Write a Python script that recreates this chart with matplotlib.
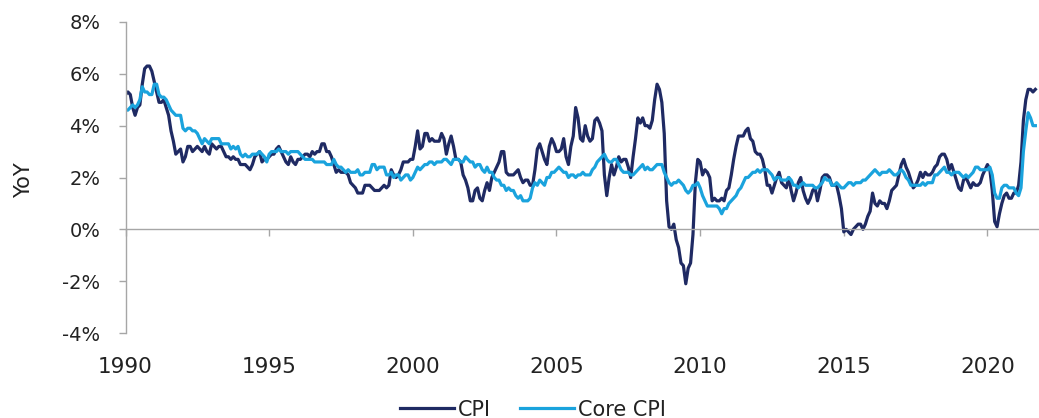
import matplotlib
matplotlib.use("Agg")
import matplotlib.pyplot as plt
import numpy as np

start_year = 1990
cpi = [
    # 1990
    5.2, 5.3, 5.2, 4.7, 4.4, 4.7, 4.8, 5.6, 6.2, 6.3, 6.3, 6.1,
    # 1991
    5.7, 5.3, 4.9, 4.9, 5.0, 4.7, 4.4, 3.8, 3.4, 2.9, 3.0, 3.1,
    # 1992
    2.6, 2.8, 3.2, 3.2, 3.0, 3.1, 3.2, 3.1, 3.0, 3.2, 3.0, 2.9,
    # 1993
    3.3, 3.2, 3.1, 3.2, 3.2, 3.0, 2.8, 2.8, 2.7, 2.8, 2.7, 2.7,
    # 1994
    2.5, 2.5, 2.5, 2.4, 2.3, 2.5, 2.8, 2.9, 3.0, 2.6, 2.7, 2.7,
    # 1995
    2.8, 2.9, 2.9, 3.1, 3.2, 3.0, 2.8, 2.6, 2.5, 2.8, 2.6, 2.5,
    # 1996
    2.7, 2.7, 2.8, 2.9, 2.9, 2.8, 3.0, 2.9, 3.0, 3.0, 3.3, 3.3,
    # 1997
    3.0, 3.0, 2.8, 2.5, 2.2, 2.3, 2.2, 2.2, 2.2, 2.1, 1.8, 1.7,
    # 1998
    1.6, 1.4, 1.4, 1.4, 1.7, 1.7, 1.7, 1.6, 1.5, 1.5, 1.5, 1.6,
    # 1999
    1.7, 1.6, 1.7, 2.3, 2.1, 2.0, 2.1, 2.3, 2.6, 2.6, 2.6, 2.7,
    # 2000
    2.7, 3.2, 3.8, 3.1, 3.2, 3.7, 3.7, 3.4, 3.5, 3.4, 3.4, 3.4,
    # 2001
    3.7, 3.5, 2.9, 3.3, 3.6, 3.2, 2.7, 2.7, 2.6, 2.1, 1.9, 1.6,
    # 2002
    1.1, 1.1, 1.5, 1.6, 1.2, 1.1, 1.5, 1.8, 1.5, 2.0, 2.2, 2.4,
    # 2003
    2.6, 3.0, 3.0, 2.2, 2.1, 2.1, 2.1, 2.2, 2.3, 2.0, 1.8, 1.9,
    # 2004
    1.9, 1.7, 1.7, 2.3, 3.1, 3.3, 3.0, 2.7, 2.5, 3.2, 3.5, 3.3,
    # 2005
    3.0, 3.0, 3.1, 3.5, 2.8, 2.5, 3.2, 3.6, 4.7, 4.3, 3.5, 3.4,
    # 2006
    4.0, 3.6, 3.4, 3.5, 4.2, 4.3, 4.1, 3.8, 2.1, 1.3, 2.0, 2.5,
    # 2007
    2.1, 2.4, 2.8, 2.6, 2.7, 2.7, 2.4, 2.0, 2.8, 3.5, 4.3, 4.1,
    # 2008
    4.3, 4.0, 4.0, 3.9, 4.2, 5.0, 5.6, 5.4, 4.9, 3.7, 1.1, 0.1,
    # 2009
    0.0, 0.2, -0.4, -0.7, -1.3, -1.4, -2.1, -1.5, -1.3, -0.2, 1.8, 2.7,
    # 2010
    2.6, 2.1, 2.3, 2.2, 2.0, 1.1, 1.2, 1.1, 1.1, 1.2, 1.1, 1.5,
    # 2011
    1.6, 2.1, 2.7, 3.2, 3.6, 3.6, 3.6, 3.8, 3.9, 3.5, 3.4, 3.0,
    # 2012
    2.9, 2.9, 2.7, 2.3, 1.7, 1.7, 1.4, 1.7, 2.0, 2.2, 1.8, 1.7,
    # 2013
    1.6, 2.0, 1.5, 1.1, 1.4, 1.8, 2.0, 1.5, 1.2, 1.0, 1.2, 1.5,
    # 2014
    1.6, 1.1, 1.5, 2.0, 2.1, 2.1, 2.0, 1.7, 1.7, 1.7, 1.3, 0.8,
    # 2015
    -0.1, 0.0, -0.1, -0.2, 0.0, 0.1, 0.2, 0.2, 0.0, 0.2, 0.5, 0.7,
    # 2016
    1.4, 1.0, 0.9, 1.1, 1.0, 1.0, 0.8, 1.1, 1.5, 1.6, 1.7, 2.1,
    # 2017
    2.5, 2.7, 2.4, 2.2, 1.9, 1.6, 1.7, 1.9, 2.2, 2.0, 2.2, 2.1,
    # 2018
    2.1, 2.2, 2.4, 2.5, 2.8, 2.9, 2.9, 2.7, 2.3, 2.5, 2.2, 1.9,
    # 2019
    1.6, 1.5, 1.9, 2.0, 1.8, 1.6, 1.8, 1.7, 1.7, 1.8, 2.1, 2.3,
    # 2020
    2.5, 2.3, 1.5, 0.3, 0.1, 0.6, 1.0, 1.3, 1.4, 1.2, 1.2, 1.4,
    # 2021
    1.4, 1.7, 2.6, 4.2, 5.0, 5.4, 5.4, 5.3, 5.4,
]

core_cpi = [
    # 1990
    4.6, 4.6, 4.7, 4.8, 4.7, 4.8, 5.0, 5.5, 5.3, 5.3, 5.2, 5.2,
    # 1991
    5.6, 5.6, 5.2, 5.1, 5.1, 5.0, 4.8, 4.6, 4.5, 4.4, 4.4, 4.4,
    # 1992
    3.9, 3.8, 3.9, 3.9, 3.8, 3.8, 3.7, 3.5, 3.3, 3.5, 3.4, 3.3,
    # 1993
    3.5, 3.5, 3.5, 3.5, 3.3, 3.3, 3.3, 3.3, 3.1, 3.2, 3.1, 3.2,
    # 1994
    2.9, 2.8, 2.9, 2.8, 2.8, 2.9, 2.9, 2.9, 3.0, 2.9, 2.8, 2.6,
    # 1995
    2.9, 3.0, 3.0, 3.0, 3.1, 3.0, 3.0, 3.0, 2.9, 3.0, 3.0, 3.0,
    # 1996
    3.0, 2.9, 2.8, 2.7, 2.7, 2.7, 2.7, 2.6, 2.6, 2.6, 2.6, 2.6,
    # 1997
    2.5, 2.5, 2.5, 2.7, 2.5, 2.4, 2.4, 2.3, 2.2, 2.3, 2.2, 2.2,
    # 1998
    2.2, 2.3, 2.1, 2.1, 2.2, 2.2, 2.2, 2.5, 2.5, 2.3, 2.4, 2.4,
    # 1999
    2.4, 2.1, 2.1, 2.2, 2.0, 2.1, 2.1, 1.9, 2.0, 2.1, 2.1, 1.9,
    # 2000
    2.0, 2.2, 2.4, 2.3, 2.4, 2.5, 2.5, 2.6, 2.6, 2.5, 2.6, 2.6,
    # 2001
    2.6, 2.7, 2.7, 2.6, 2.5, 2.7, 2.7, 2.7, 2.6, 2.6, 2.8, 2.7,
    # 2002
    2.6, 2.6, 2.4, 2.5, 2.5, 2.3, 2.2, 2.4, 2.2, 2.2, 2.0, 1.9,
    # 2003
    1.9, 1.7, 1.7, 1.5, 1.6, 1.5, 1.5, 1.3, 1.2, 1.3, 1.1, 1.1,
    # 2004
    1.1, 1.2, 1.6, 1.8, 1.7, 1.9, 1.8, 1.7, 2.0, 2.0, 2.2, 2.2,
    # 2005
    2.3, 2.4, 2.3, 2.2, 2.2, 2.0, 2.1, 2.1, 2.0, 2.1, 2.1, 2.2,
    # 2006
    2.1, 2.1, 2.1, 2.3, 2.4, 2.6, 2.7, 2.8, 2.9, 2.7, 2.6, 2.6,
    # 2007
    2.7, 2.7, 2.5, 2.3, 2.2, 2.2, 2.2, 2.1, 2.1, 2.2, 2.3, 2.4,
    # 2008
    2.5, 2.3, 2.4, 2.3, 2.3, 2.4, 2.5, 2.5, 2.5, 2.2, 2.0, 1.8,
    # 2009
    1.7, 1.8, 1.8, 1.9, 1.8, 1.7, 1.5, 1.4, 1.5, 1.7, 1.7, 1.8,
    # 2010
    1.6, 1.3, 1.1, 0.9, 0.9, 0.9, 0.9, 0.9, 0.8, 0.6, 0.8, 0.8,
    # 2011
    1.0, 1.1, 1.2, 1.3, 1.5, 1.6, 1.8, 2.0, 2.0, 2.1, 2.2, 2.2,
    # 2012
    2.3, 2.2, 2.3, 2.3, 2.3, 2.2, 2.1, 1.9, 2.0, 2.0, 1.9, 1.9,
    # 2013
    1.9, 2.0, 1.9, 1.7, 1.7, 1.6, 1.7, 1.8, 1.7, 1.7, 1.7, 1.7,
    # 2014
    1.6, 1.6, 1.7, 1.8, 2.0, 1.9, 1.9, 1.7, 1.7, 1.8, 1.7, 1.6,
    # 2015
    1.6, 1.7, 1.8, 1.8, 1.7, 1.8, 1.8, 1.8, 1.9, 1.9, 2.0, 2.1,
    # 2016
    2.2, 2.3, 2.2, 2.1, 2.2, 2.2, 2.2, 2.3, 2.2, 2.1, 2.1, 2.2,
    # 2017
    2.3, 2.2, 2.0, 1.9, 1.7, 1.7, 1.7, 1.7, 1.7, 1.8, 1.7, 1.8,
    # 2018
    1.8, 1.8, 2.1, 2.1, 2.2, 2.3, 2.4, 2.2, 2.2, 2.1, 2.2, 2.2,
    # 2019
    2.2, 2.1, 2.0, 2.1, 2.0, 2.1, 2.2, 2.4, 2.4, 2.3, 2.3, 2.3,
    # 2020
    2.3, 2.4, 2.1, 1.4, 1.2, 1.2, 1.6, 1.7, 1.7, 1.6, 1.6, 1.6,
    # 2021
    1.4, 1.3, 1.6, 3.0, 3.8, 4.5, 4.3, 4.0, 4.0,
]

x_ticks = [1990, 1995, 2000, 2005, 2010, 2015, 2020]
y_ticks = [-4, -2, 0, 2, 4, 6, 8]
series_labels = ["CPI", "Core CPI"]

navy = "#1F2A63"
light = "#1AA3DD"
grey = "#A6A6A6"
text_c = "#222222"

plt.rcParams['font.family'] = ['DejaVu Sans']

dates = start_year + np.arange(len(cpi)) / 12.0

fig = plt.figure(figsize=(10.39, 4.18), dpi=100)
ax = fig.add_axes([0.1208, 0.2033, 0.8780, 0.7441])

l1, = ax.plot(dates, cpi, color=navy, lw=2.3, label=series_labels[0], solid_joinstyle='round')
l2, = ax.plot(dates, core_cpi, color=light, lw=2.3, label=series_labels[1], solid_joinstyle='round')

ax.set_xlim(1990, 2021.75)
ax.set_ylim(-4, 8)

ax.set_yticks(y_ticks)
ax.set_yticklabels([f"{v}%" for v in y_ticks])
ax.set_xticks(x_ticks)
ax.set_xticklabels([str(v) for v in x_ticks])

for s in ['top', 'right']:
    ax.spines[s].set_visible(False)
ax.spines['left'].set_color(grey)
ax.spines['left'].set_linewidth(1.0)
ax.spines['bottom'].set_position(('data', 0))
ax.spines['bottom'].set_color(grey)
ax.spines['bottom'].set_linewidth(1.0)

ax.tick_params(axis='y', direction='out', length=5, width=1.0, color=grey,
               labelsize=14, labelcolor=text_c, pad=13)
ax.tick_params(axis='x', direction='out', length=5, width=1.0, color=grey,
               labelsize=15.5, labelcolor=text_c, pad=87)

ax.set_ylabel("YoY", fontsize=15, color=text_c, labelpad=8)
ax.yaxis.set_label_coords(-0.1, 0.49)

fig.legend(handles=[l1, l2], labels=series_labels, loc='center',
           bbox_to_anchor=(0.513, 0.02), ncol=2, frameon=False,
           fontsize=15, handlelength=2.6, handletextpad=0.2,
           columnspacing=1.4, labelcolor=text_c)

fig.savefig("out.png", dpi=100)
